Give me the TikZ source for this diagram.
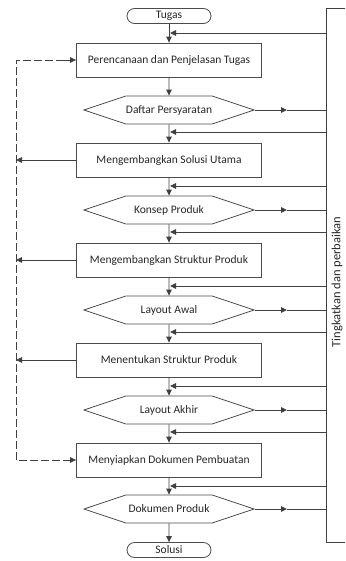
\documentclass[tikz,border=0pt]{standalone}
\usepackage{fontspec}
\setmainfont{Carlito}
\usetikzlibrary{arrows.meta,shapes.symbols}
\begin{document}
\begin{tikzpicture}[x=1pt,y=-1pt,
  line/.style={draw=black!75,line width=0.9pt},
  tip/.style={-{Triangle[length=6pt,width=5.5pt]}},
  txt/.style={font=\fontsize{11.5}{13}\selectfont,text=black!85},
  procbox/.style={txt,draw=black!70,line width=0.8pt,minimum width=185pt,minimum height=34pt,inner sep=0pt},
  hexa/.style={txt,signal,signal to=east and west,signal pointer angle=37,draw=black!70,line width=0.8pt,minimum width=170pt,minimum height=28pt,inner sep=0pt},
  term/.style={txt,draw=black!70,line width=0.8pt,rounded corners=7.5pt,minimum width=84pt,minimum height=15pt,inner sep=0pt},
  dashline/.style={line,dash pattern=on 8pt off 3pt}
]
\useasboundingbox (0,0) rectangle (345,561);

\node[term] (tugas) at (169,16) {Tugas};
\node[procbox] (b1) at (169,60) {Perencanaan dan Penjelasan Tugas};
\node[hexa] (h1) at (169,110) {Daftar Persyaratan};
\node[procbox] (b2) at (169,160) {Mengembangkan Solusi Utama};
\node[hexa] (h2) at (169,210) {Konsep Produk};
\node[procbox] (b3) at (169,260) {Mengembangkan Struktur Produk};
\node[hexa] (h3) at (169,310) {Layout Awal};
\node[procbox] (b4) at (169,360) {Menentukan Struktur Produk};
\node[hexa] (h4) at (169,410) {Layout Akhir};
\node[procbox] (b5) at (169,460) {Menyiapkan Dokumen Pembuatan};
\node[hexa] (h5) at (169,509) {Dokumen Produk};
\node[term] (solusi) at (169,550) {Solusi};

\node[txt,font=\fontsize{12.5}{14}\selectfont,rotate=90] (lbl) at (337,282) {Tingkatkan dan perbaikan};

% right bracket
\coordinate (rt) at (345,8);
\coordinate (rtc) at (326,8);
\coordinate (rbc) at (326,542);
\coordinate (rb) at (345,542);
\draw[line] (rt) -- (rtc) -- (rbc) -- (rb);

% main flow
\draw[line,tip] (tugas) -- (b1);
\draw[line,tip] (b1) -- (h1);
\draw[line,tip] (h1) -- (b2);
\draw[line,tip] (b2) -- (h2);
\draw[line,tip] (h2) -- (b3);
\draw[line,tip] (b3) -- (h3);
\draw[line,tip] (h3) -- (b4);
\draw[line,tip] (b4) -- (h4);
\draw[line,tip] (h4) -- (b5);
\draw[line,tip] (b5) -- (h5);
\draw[line,tip] (h5) -- (solusi);

% feedback from the right
\foreach \y [count=\i] in {33,132,186,232,286,332,386,432,486}{
  \coordinate (fr\i) at (326,\y);
  \coordinate (fc\i) at (170,\y);
  \draw[line,tip] (fr\i) -- (fc\i);
}

% outputs of the hexagons to the right
\foreach \h/\y in {h1/110,h2/210,h3/310,h4/410,h5/509}{
  \coordinate (m\h) at (287,\y);
  \coordinate (e\h) at (326,\y);
  \draw[line,tip] (\h.east) -- (m\h);
  \draw[line] (m\h) -- (e\h);
}

% left arrows
\foreach \b/\y in {b2/160,b3/260,b4/360}{
  \coordinate (l\b) at (16,\y);
  \draw[line,tip] (\b.west) -- (l\b);
}

% dashed return
\coordinate (d1) at (16,60);
\coordinate (d2) at (16,460);
\coordinate (s1) at (64,60);
\coordinate (s2) at (64,460);
\draw[dashline] (s1) -- (d1) -- (d2) -- (s2);
\draw[line,tip] (s1) -- (b1.west);
\draw[line,tip] (s2) -- (b5.west);
\end{tikzpicture}
\end{document}
